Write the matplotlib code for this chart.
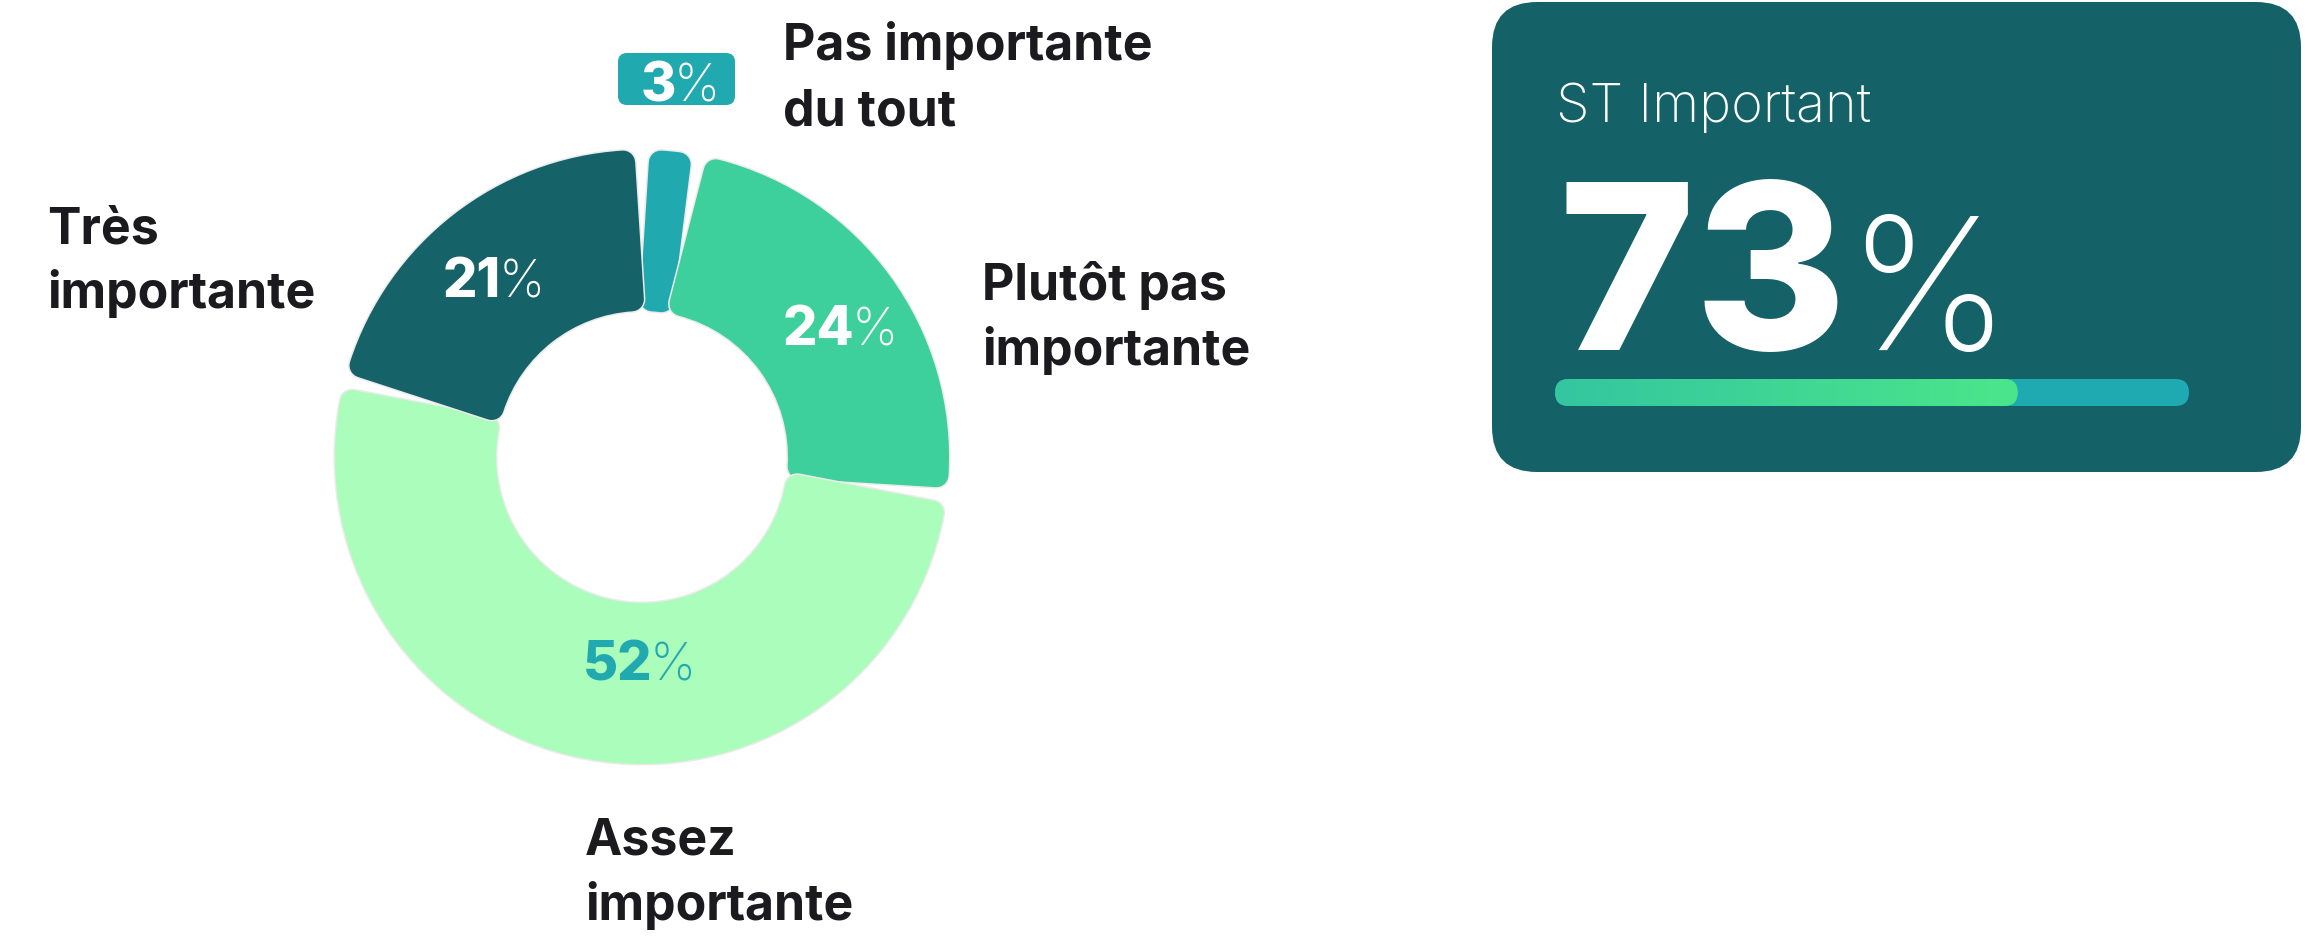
import numpy as np
import matplotlib
matplotlib.use("Agg")
import matplotlib.pyplot as plt
from matplotlib.patches import FancyBboxPatch
import matplotlib.patheffects as pe
from matplotlib.colors import LinearSegmentedColormap

# ---------------- data ----------------
categories = ["Pas importante\ndu tout", "Plutôt pas\nimportante", "Assez\nimportante", "Très\nimportante"]
values = [3, 24, 52, 21]
slice_colors = ["#21A9B0", "#3DCF9C", "#ABFDBB", "#156268"]
pct_colors = ["white", "white", "#21A9B0", "white"]
card_title = "ST Important"
card_members = ["Assez\nimportante", "Très\nimportante"]

# ---------------- layout ----------------
W, H, DPI = 2305, 937, 100
fig = plt.figure(figsize=(W / DPI, H / DPI), dpi=DPI)
ax = fig.add_axes([0, 0, 1, 1])

def Y(y):
    return H - y

def pt(px):
    return px * 72 / DPI

FONT = "Inter"
TXT = "#1B1B1F"

cx, cy, R_out, R_in = 642, 458, 307, 146
wedges, _ = ax.pie(values, startangle=90, counterclock=False, colors=slice_colors,
                   center=(cx, Y(cy)), radius=R_out,
                   wedgeprops=dict(width=R_out - R_in, linewidth=0))
corner, gap = 12, 2.5
r_mid = (R_out + R_in) / 2
for w in wedges:
    dth = np.degrees((corner + gap) / r_mid)
    t1, t2 = w.theta1, w.theta2
    w.set_theta1(t1 + dth)
    w.set_theta2(t2 - dth)
    w.set_radius(R_out - corner)
    w.set_width(R_out - R_in - 2 * corner)
    fc = w.get_facecolor()
    w.set_edgecolor(fc)
    w.set_linewidth(pt(2 * corner))
    w.set_joinstyle("round")
    w.set_path_effects([pe.Stroke(linewidth=pt(2 * corner) + 2.2, foreground="#ebebeb",
                                  joinstyle="round"), pe.Normal()])

ax.set_xlim(0, W)
ax.set_ylim(0, H)
ax.axis("off")

# small badge behind the 3% label
ax.add_patch(FancyBboxPatch((618, Y(106)), 117, 52,
                            boxstyle="round,pad=0,rounding_size=9",
                            fc=slice_colors[0], ec="none", zorder=3))

# percent labels: (junction x, baseline y)
pct_pos = [(676, 101), (854, 345), (652, 681), (501, 297)]
num_fs = pt(54)
for v, (x, y), c in zip(values, pct_pos, pct_colors):
    ax.text(x, Y(y), f"{v}", ha="right", va="baseline", fontsize=num_fs,
            fontweight="heavy", color=c, family=FONT, zorder=5)
    ax.text(x - 2, Y(y), "%", ha="left", va="baseline", fontsize=pt(52),
            fontweight="light", color=c, family=FONT, zorder=5)

# category labels: (x, baseline line 1, baseline line 2)
lab_pos = [(783, 60, 125), (982, 300, 365), (585, 855, 920), (47, 243, 308)]
lab_fs = pt(50)
for lab, (x, b1, b2) in zip(categories, lab_pos):
    l1, l2 = lab.split("\n")
    for s, b in ((l1, b1), (l2, b2)):
        ax.text(x, Y(b), s, ha="left", va="baseline", fontsize=lab_fs,
                fontweight="bold", color=TXT, family=FONT)

# ---------------- summary card ----------------
card_c = "#146168"
ax.add_patch(FancyBboxPatch((1492, Y(473)), 809, 470,
                            boxstyle="round,pad=0,rounding_size=45",
                            fc=card_c, ec="none", zorder=1))
st_value = sum(v for c, v in zip(categories, values) if c in card_members)

ax.text(1556, Y(122), card_title, ha="left", va="baseline", fontsize=pt(54),
        fontweight="light", color="white", family=FONT, zorder=4)
ax.text(1558, Y(350), f"{st_value}", ha="left", va="baseline", fontsize=pt(232),
        fontweight="heavy", color="white", family=FONT, zorder=4)
ax.text(1846, Y(350), "%", ha="left", va="baseline", fontsize=pt(184),
        fontweight="light", color="white", family=FONT, zorder=4)

# progress bar
bx0, bx1, by0, by1 = 1555, 2189, 380, 407
bh = by1 - by0
ax.add_patch(FancyBboxPatch((bx0, Y(by1)), bx1 - bx0, bh,
                            boxstyle=f"round,pad=0,rounding_size={bh/2}",
                            fc="#1FA9B0", ec="none", zorder=4))
fill_w = (bx1 - bx0) * st_value / 100
fill_patch = FancyBboxPatch((bx0, Y(by1)), fill_w, bh,
                            boxstyle=f"round,pad=0,rounding_size={bh/2}",
                            fc="none", ec="none", zorder=5)
ax.add_patch(fill_patch)
grad_cmap = LinearSegmentedColormap.from_list("g", ["#34C6A0", "#4BE68A"])
im = ax.imshow(np.linspace(0, 1, 256).reshape(1, -1), cmap=grad_cmap, aspect="auto",
               extent=(bx0, bx0 + fill_w, Y(by1), Y(by0)), zorder=5,
               interpolation="bilinear")
im.set_clip_path(fill_patch)

ax.set_xlim(0, W)
ax.set_ylim(0, H)
fig.savefig("out.png", dpi=DPI, facecolor="white")
